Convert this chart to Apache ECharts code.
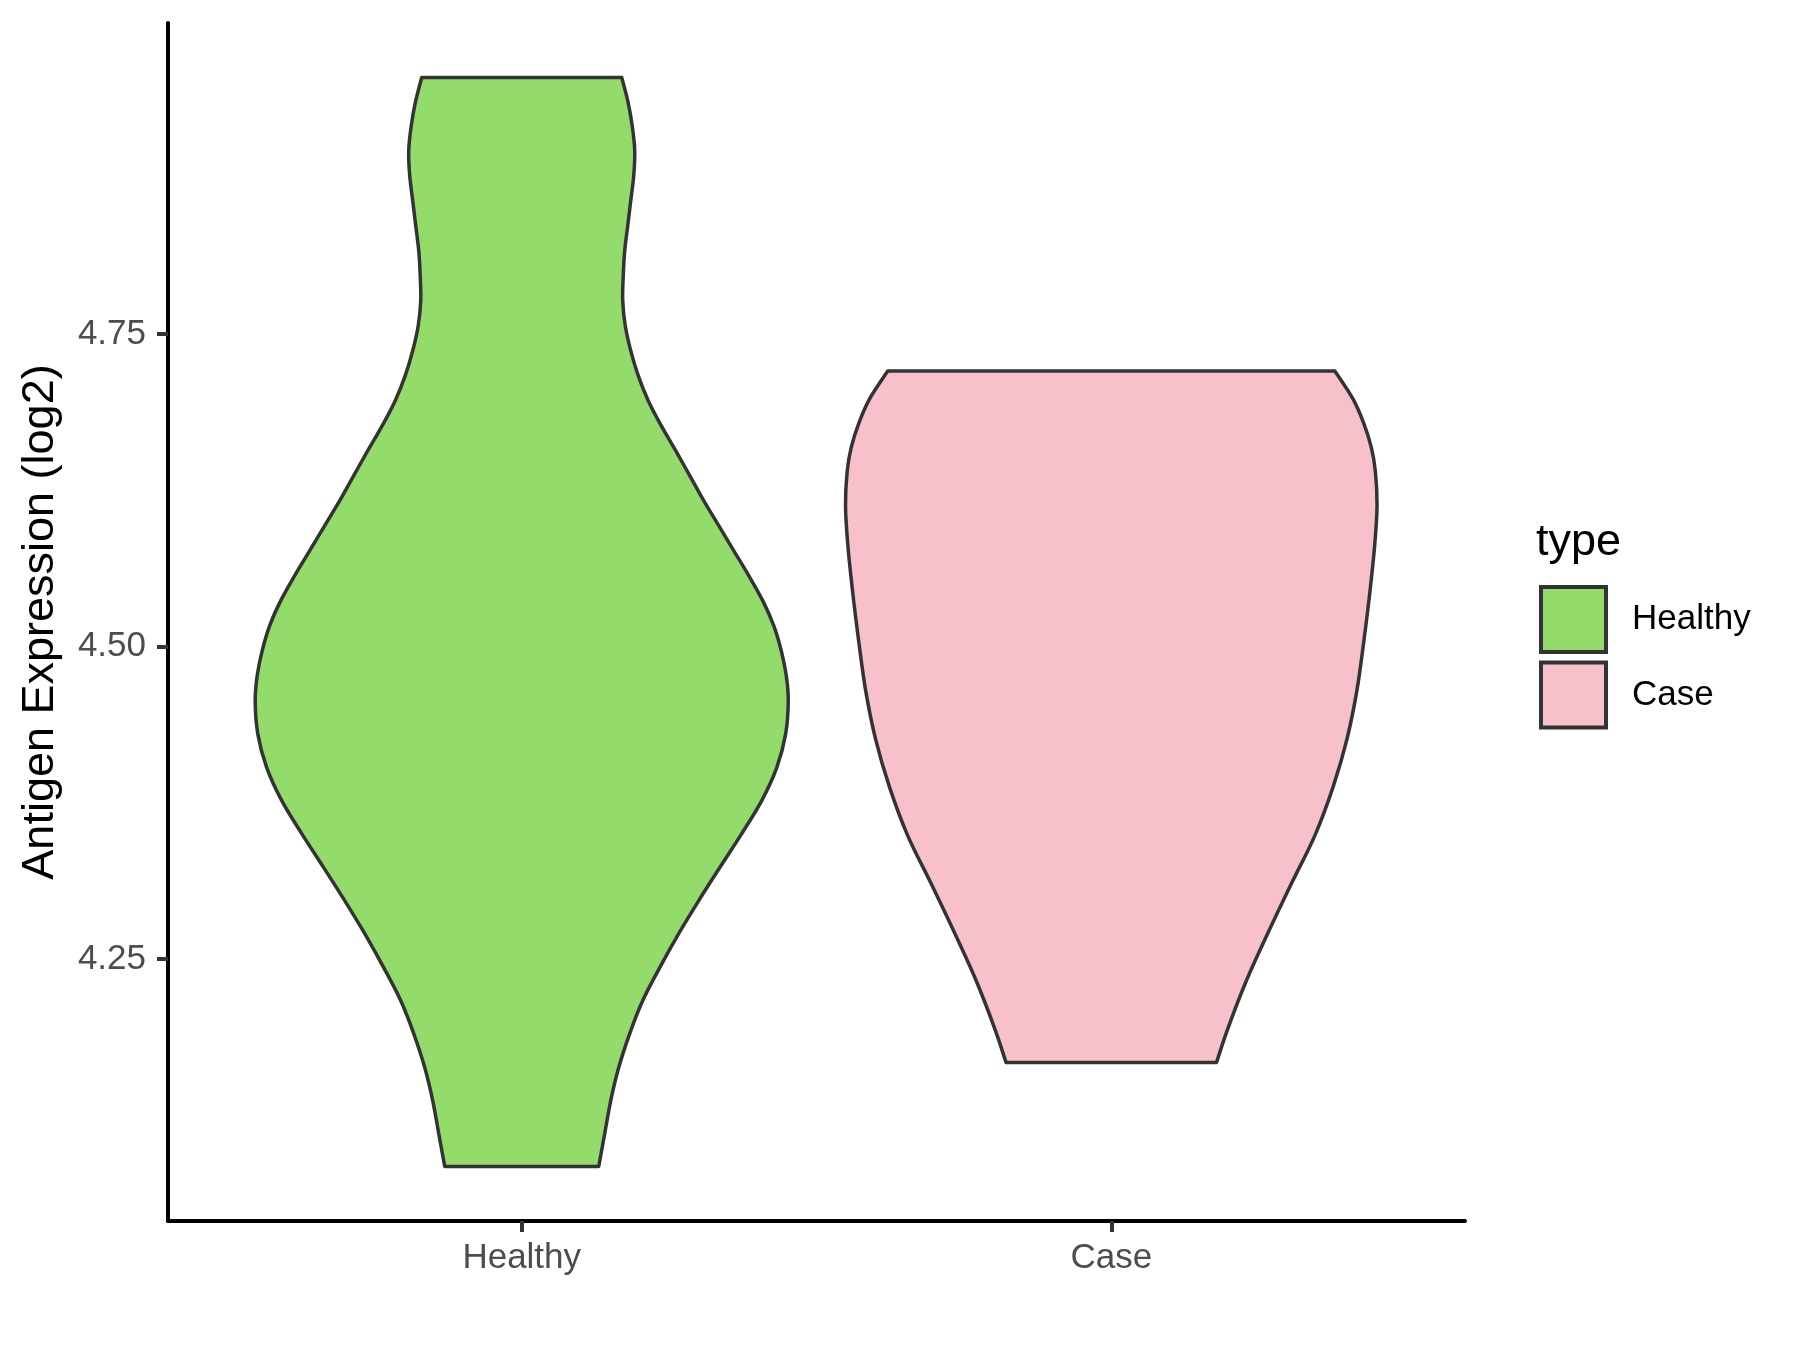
<!DOCTYPE html>
<html>
<head>
<meta charset="utf-8">
<script src="https://cdn.jsdelivr.net/npm/echarts@6/dist/echarts.min.js"></script>
<style>
html,body{margin:0;padding:0;background:#fff;}
#chart{width:1800px;height:1350px;}
</style>
</head>
<body>
<div id="chart"></div>
<script>
// Categories and tick labels
const categories = ['Healthy', 'Case'];
const yTicks = [4.25, 4.50, 4.75];
const yMin = 4.0404, yMax = 4.9990;

// Violin outlines: value (y) and half-width (in category units)
const healthyY = [4.9554, 4.9368, 4.9168, 4.8968, 4.8768, 4.8568, 4.8368, 4.8168, 4.7968, 4.7768, 4.7568, 4.7368, 4.7168, 4.6968, 4.6768, 4.6568, 4.6368, 4.6168, 4.5968, 4.5768, 4.5568, 4.5368, 4.5168, 4.4968, 4.4768, 4.4568, 4.4304, 4.4032, 4.3768, 4.3504, 4.3232, 4.2968, 4.2704, 4.2432, 4.2168, 4.1904, 4.1632, 4.1368, 4.1104, 4.0840];
const healthyW = [0.1696, 0.1798, 0.1874, 0.1917, 0.1900, 0.1849, 0.1798, 0.1747, 0.1722, 0.1713, 0.1756, 0.1849, 0.1976, 0.2146, 0.2366, 0.2612, 0.2850, 0.3087, 0.3342, 0.3596, 0.3851, 0.4088, 0.4275, 0.4402, 0.4487, 0.4521, 0.4478, 0.4326, 0.4071, 0.3732, 0.3359, 0.3003, 0.2663, 0.2341, 0.2053, 0.1832, 0.1645, 0.1510, 0.1408, 0.1306];
const caseY = [4.7205, 4.6980, 4.6786, 4.6592, 4.6400, 4.6128, 4.5816, 4.5430, 4.5040, 4.4656, 4.4264, 4.3878, 4.3488, 4.3104, 4.2712, 4.2328, 4.1936, 4.1672];
const caseW = [0.3792, 0.4102, 0.4283, 0.4412, 0.4480, 0.4508, 0.4469, 0.4385, 0.4283, 0.4169, 0.4000, 0.3763, 0.3453, 0.3056, 0.2661, 0.2293, 0.1971, 0.1785];

const colors = {Healthy: '#93DC6C', Case: '#F7C0CB'};
const FONT = "'Liberation Sans', Arial, Helvetica, sans-serif";

function catmull(P) {
  let s = '';
  for (let i = 0; i < P.length - 1; i++) {
    const p0 = P[i - 1] || P[i], p1 = P[i], p2 = P[i + 1], p3 = P[i + 2] || P[i + 1];
    const c1x = p1[0] + (p2[0] - p0[0]) / 6, c1y = p1[1] + (p2[1] - p0[1]) / 6;
    const c2x = p2[0] - (p3[0] - p1[0]) / 6, c2y = p2[1] - (p3[1] - p1[1]) / 6;
    s += ' C ' + c1x + ' ' + c1y + ' ' + c2x + ' ' + c2y + ' ' + p2[0] + ' ' + p2[1];
  }
  return s;
}

function makeRender(ys, ws) {
  return function (params, api) {
    const cx = api.value(0);
    const L = ys.map((y, i) => api.coord([cx - ws[i], y]));
    const R = ys.map((y, i) => api.coord([cx + ws[i], y])).reverse();
    const d = 'M ' + L[0][0] + ' ' + L[0][1] + catmull(L) +
      ' L ' + R[0][0] + ' ' + R[0][1] + catmull(R) + ' Z';
    return {
      type: 'path',
      shape: {pathData: d},
      style: {fill: api.visual('color'), stroke: '#333333', lineWidth: 3.5, lineJoin: 'round'}
    };
  };
}

const chart = echarts.init(document.getElementById('chart'), null, {renderer: 'canvas'});
chart.setOption({
  animation: false,
  backgroundColor: '#ffffff',
  grid: {left: 168, right: 335, top: 23, bottom: 129, containLabel: false, outerBoundsMode: 'none'},
  xAxis: {
    type: 'value', min: 0.4, max: 2.6,
    splitLine: {show: false},
    axisLine: {show: true, lineStyle: {color: '#000', width: 4}},
    axisTick: {show: true, customValues: [1, 2], length: 11, lineStyle: {color: '#333', width: 4}},
    axisLabel: {show: true, customValues: [1, 2], margin: 20,
      formatter: v => categories[Math.round(v) - 1] || '',
      color: '#4D4D4D', fontSize: 35, fontFamily: FONT}
  },
  yAxis: {
    type: 'value', min: yMin, max: yMax,
    name: 'Antigen Expression (log2)', nameLocation: 'middle', nameRotate: 90, nameGap: 105,
    nameMoveOverlap: false,
    nameTextStyle: {color: '#000', fontSize: 45, fontFamily: FONT},
    splitLine: {show: false},
    axisLine: {show: true, lineStyle: {color: '#000', width: 4}},
    axisTick: {show: true, customValues: yTicks, length: 11, lineStyle: {color: '#333', width: 4}},
    axisLabel: {show: true, customValues: yTicks, margin: 22,
      formatter: v => v.toFixed(2), color: '#4D4D4D', fontSize: 35, fontFamily: FONT}
  },
  legend: {
    orient: 'vertical', left: 1539, top: 585, padding: 0,
    data: categories.map(c => ({name: c, icon: 'rect'})),
    itemWidth: 65, itemHeight: 65, itemGap: 6.5,
    itemStyle: {borderColor: '#333333', borderWidth: 4},
    textStyle: {color: '#000', fontSize: 35, fontFamily: FONT, padding: [0, 0, 0, 21]}
  },
  graphic: [{
    type: 'text', left: 1536, top: 520,
    style: {text: 'type', fill: '#000', fontSize: 45, fontFamily: FONT}
  }],
  series: [
    {name: 'Healthy', type: 'custom', data: [[1]], itemStyle: {color: colors.Healthy},
      renderItem: makeRender(healthyY, healthyW), encode: {x: 0}},
    {name: 'Case', type: 'custom', data: [[2]], itemStyle: {color: colors.Case},
      renderItem: makeRender(caseY, caseW), encode: {x: 0}}
  ]
});
</script>
</body>
</html>
